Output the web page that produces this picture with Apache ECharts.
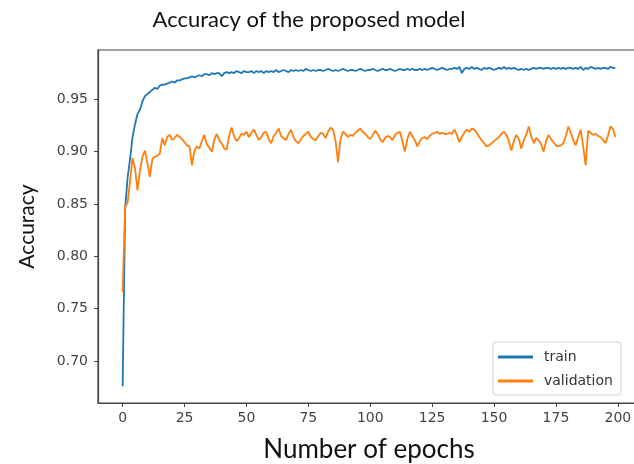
<!DOCTYPE html>
<html>
<head>
<meta charset="utf-8">
<script src="https://cdn.jsdelivr.net/npm/echarts@6/dist/echarts.min.js"></script>
<style>html,body{margin:0;padding:0;background:#fff;}#c{width:634px;height:464px;}</style>
</head>
<body>
<div id="c"></div>
<script>
var xTicks = [0, 25, 50, 75, 100, 125, 150, 175, 200];
var yTicks = [0.70, 0.75, 0.80, 0.85, 0.90, 0.95];
var seriesNames = ['train', 'validation'];

var trainAcc = [
0.676,0.845,0.875,0.893,0.914,0.926,0.936,0.940,0.948,0.953,
0.955,0.957,0.959,0.961,0.960,0.963,0.964,0.964,0.965,0.966,
0.967,0.966,0.968,0.968,0.969,0.970,0.970,0.971,0.972,0.971,
0.972,0.973,0.972,0.974,0.974,0.973,0.975,0.974,0.975,0.975,
0.972,0.975,0.976,0.975,0.976,0.975,0.977,0.976,0.975,0.977,
0.976,0.976,0.977,0.975,0.977,0.976,0.977,0.975,0.977,0.976,
0.977,0.976,0.978,0.976,0.977,0.978,0.977,0.976,0.978,0.977,
0.978,0.977,0.978,0.977,0.979,0.978,0.977,0.978,0.977,0.978,
0.978,0.977,0.978,0.979,0.978,0.977,0.978,0.977,0.978,0.979,
0.978,0.977,0.978,0.978,0.977,0.978,0.979,0.978,0.977,0.978,
0.978,0.979,0.978,0.977,0.978,0.979,0.978,0.978,0.979,0.978,
0.977,0.978,0.979,0.978,0.978,0.979,0.978,0.979,0.978,0.978,
0.979,0.978,0.979,0.978,0.979,0.980,0.979,0.978,0.979,0.980,
0.979,0.978,0.979,0.979,0.980,0.979,0.981,0.975,0.979,0.980,
0.979,0.981,0.979,0.980,0.979,0.978,0.980,0.979,0.980,0.979,
0.978,0.979,0.980,0.979,0.981,0.979,0.980,0.979,0.980,0.979,
0.978,0.979,0.978,0.979,0.978,0.979,0.980,0.979,0.980,0.980,
0.979,0.980,0.980,0.979,0.980,0.979,0.980,0.979,0.980,0.979,
0.980,0.980,0.979,0.980,0.979,0.981,0.978,0.980,0.979,0.981,
0.980,0.979,0.980,0.979,0.980,0.980,0.979,0.981,0.980,0.980
];

var valAcc = [
0.766,0.848,0.851,0.872,0.894,0.884,0.863,0.882,0.895,0.901,
0.889,0.876,0.893,0.895,0.896,0.898,0.913,0.906,0.914,0.916,
0.911,0.913,0.916,0.914,0.912,0.909,0.906,0.905,0.887,0.901,
0.905,0.903,0.910,0.916,0.907,0.904,0.900,0.911,0.917,0.911,
0.908,0.903,0.902,0.915,0.923,0.915,0.910,0.913,0.917,0.916,
0.919,0.914,0.918,0.921,0.916,0.911,0.914,0.918,0.919,0.912,
0.908,0.915,0.918,0.922,0.915,0.913,0.911,0.917,0.921,0.914,
0.910,0.908,0.912,0.915,0.917,0.919,0.914,0.912,0.911,0.915,
0.918,0.917,0.913,0.919,0.923,0.921,0.910,0.890,0.912,0.919,
0.917,0.914,0.916,0.915,0.918,0.920,0.922,0.919,0.917,0.914,
0.912,0.916,0.920,0.917,0.912,0.909,0.913,0.915,0.914,0.911,
0.916,0.918,0.919,0.910,0.900,0.912,0.919,0.915,0.911,0.905,
0.910,0.913,0.914,0.912,0.915,0.917,0.918,0.919,0.917,0.918,
0.917,0.917,0.918,0.917,0.921,0.916,0.909,0.914,0.918,0.921,
0.919,0.922,0.921,0.918,0.914,0.911,0.908,0.905,0.906,0.908,
0.910,0.912,0.914,0.917,0.919,0.916,0.910,0.901,0.910,0.916,
0.912,0.903,0.911,0.916,0.924,0.915,0.908,0.913,0.911,0.907,
0.900,0.910,0.916,0.912,0.909,0.906,0.905,0.906,0.908,0.915,
0.924,0.918,0.911,0.906,0.914,0.921,0.905,0.887,0.920,0.918,
0.916,0.917,0.915,0.914,0.911,0.908,0.915,0.924,0.922,0.914
];

function pairs(arr) { return arr.map(function (v, i) { return [i, v]; }); }

var chart = echarts.init(document.getElementById('c'), null, { renderer: 'canvas' });
var tickFont = 'DejaVu Sans';
var titleFont = 'Lato';
chart.setOption({
  animation: false,
  backgroundColor: '#ffffff',
  title: {
    text: 'Accuracy of the proposed model',
    left: 304,
    textAlign: 'center',
    top: 4,
    textStyle: { fontFamily: titleFont, fontSize: 22, fontWeight: 'normal', color: '#111' }
  },
  grid: {
    left: 98, top: 50, width: 542, height: 353,
    outerBoundsMode: 'none',
    containLabel: false,
    show: true, borderColor: '#444', borderWidth: 1.2, backgroundColor: '#fff'
  },
  legend: {
    orient: 'vertical',
    left: 493, top: 342,
    width: 139,
    padding: [8, 8, 7, 5],
    itemGap: 10,
    itemWidth: 35, itemHeight: 3,
    icon: 'rect',
    backgroundColor: '#fff',
    borderColor: '#d0d0d0', borderWidth: 1, borderRadius: 3,
    textStyle: { fontFamily: tickFont, fontSize: 14, color: '#333', padding: [0, 0, 0, 6] },
    data: seriesNames
  },
  xAxis: {
    type: 'value',
    min: -9.95, max: 208.95,
    name: 'Number of epochs',
    nameLocation: 'middle',
    nameGap: 34,
    nameTextStyle: { fontFamily: titleFont, fontSize: 26, color: '#111' },
    axisLine: { show: true, onZero: false, lineStyle: { color: '#444', width: 1.2 } },
    axisTick: { show: true, customValues: xTicks, length: 4, lineStyle: { color: '#444' } },
    axisLabel: { customValues: xTicks, margin: 8, fontFamily: tickFont, fontSize: 14, color: '#444' },
    splitLine: { show: false }
  },
  yAxis: {
    type: 'value',
    min: 0.6599, max: 0.9971,
    name: 'Accuracy',
    nameLocation: 'middle',
    nameGap: 60,
    nameRotate: 90,
    nameTextStyle: { fontFamily: titleFont, fontSize: 21, color: '#111' },
    axisLine: { show: true, onZero: false, lineStyle: { color: '#444', width: 1.2 } },
    axisTick: { show: true, customValues: yTicks, length: 4, lineStyle: { color: '#444' } },
    axisLabel: {
      customValues: yTicks, margin: 10, fontFamily: tickFont, fontSize: 14, color: '#444',
      formatter: function (v) { return v.toFixed(2); }
    },
    splitLine: { show: false }
  },
  series: [
    { name: seriesNames[0], type: 'line', data: pairs(trainAcc), showSymbol: false, symbol: 'none',
      lineStyle: { color: '#1f77b4', width: 1.8 }, itemStyle: { color: '#1f77b4' } },
    { name: seriesNames[1], type: 'line', data: pairs(valAcc), showSymbol: false, symbol: 'none',
      lineStyle: { color: '#ff7f0e', width: 1.8 }, itemStyle: { color: '#ff7f0e' } }
  ]
});
</script>
</body>
</html>
